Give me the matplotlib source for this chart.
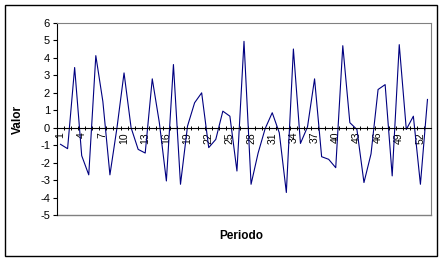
import matplotlib
matplotlib.use("Agg")
from matplotlib import pyplot as plt
from matplotlib.patches import Rectangle

plt.rcParams['font.family'] = ['Liberation Sans', 'DejaVu Sans']
plt.rcParams['axes.unicode_minus'] = False

periodo = list(range(1, 54))
valor = [-0.95, -1.2, 3.45, -1.6, -2.7, 4.13, 1.5, -2.7, 0.0, 3.14,
         0.0, -1.24, -1.45, 2.8, 0.3, -3.05, 3.62, -3.24, 0.1, 1.43,
         2.0, -1.14, -0.67, 0.95, 0.66, -2.48, 4.95, -3.24, -1.45, -0.05,
         0.86, -0.29, -3.71, 4.51, -0.9, 0.05, 2.8, -1.66, -1.81, -2.29,
         4.7, 0.29, -0.1, -3.14, -1.5, 2.19, 2.47, -2.76, 4.76, -0.1,
         0.66, -3.24, 1.62]
etiquetas_x = list(range(1, 54, 3))

fig = plt.figure(figsize=(4.44, 2.61), dpi=100)
ax = fig.add_axes([57/444, 1-215/261, 374/444, 192/261])

ax.plot(periodo, valor, color='#000080', linewidth=0.8)

ax.set_xlim(0.5, 53.5)
ax.set_ylim(-5, 6)
ax.set_yticks(range(-5, 7))
ax.tick_params(axis='y', direction='out', length=3, width=0.8, labelsize=8, pad=2)

# eixo x no zero, marcas nas divisoes das categorias
ax.spines['bottom'].set_position(('data', 0))
ax.spines['bottom'].set_color('black')
ax.spines['left'].set_color('black')
ax.spines['top'].set_color('#808080')
ax.spines['right'].set_color('#808080')
ax.axhline(-5, color='#808080', linewidth=1.0, clip_on=False)
ax.set_xticks([i + 0.5 for i in range(0, 54)])
ax.set_xticklabels([])
ax.tick_params(axis='x', which='major', direction='inout', length=3, width=0.7)
ax.set_xticks(etiquetas_x, minor=True)
ax.set_xticklabels([str(e) for e in etiquetas_x], minor=True, rotation=90, fontsize=7.5)
ax.tick_params(axis='x', which='minor', length=0, pad=3)

ax.set_ylabel('Valor', fontsize=8.5, fontweight='bold')
ax.yaxis.set_label_coords(-0.088, 0.5)
fig.text(241/444, 1-236/261, 'Periodo', fontsize=8.5, fontweight='bold', ha='center', va='center')

fig.patches.append(Rectangle((5/444, 1-256/261), 432/444, 251/261, transform=fig.transFigure,
                             fill=False, edgecolor='black', linewidth=1))

fig.savefig('out.png', dpi=100)
